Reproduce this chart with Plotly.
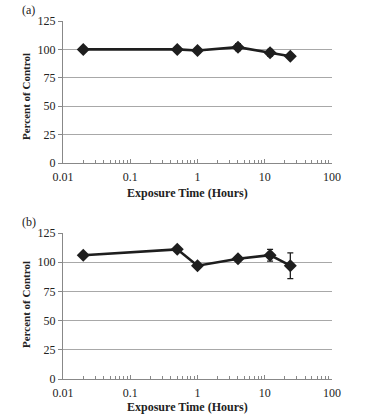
import plotly.graph_objects as go

hours = [0.02, 0.5, 1, 4, 12, 24]
pct_a = [100, 100, 99, 102, 97, 94]
err_a = [2, 2, 2, 3, 3, 1.5]
pct_b = [106, 111, 97, 103, 106, 97]
err_b = [1, 1, 1, 1, 5, 11]
x_ticks = [0.01, 0.1, 1, 10, 100]
x_ticktext = ["0.01", "0.1", "1", "10", "100"]
x_minor = [m * d for d in [0.01, 0.1, 1, 10] for m in range(2, 10)]
y_ticks = [0, 25, 50, 75, 100, 125]
panel_labels = ["(a)", "(b)"]

W, H = 374, 417
FONT = "Liberation Serif"

fig = go.Figure()

def add_panel(idx, y, err):
    xa = "x" if idx == 0 else "x2"
    ya = "y" if idx == 0 else "y2"
    fig.add_trace(go.Scatter(
        x=hours, y=y, xaxis=xa, yaxis=ya, mode="lines+markers",
        line=dict(color="#1e1e1e", width=2.6),
        marker=dict(symbol="diamond", size=10, color="#1e1e1e"),
        error_y=dict(type="data", array=err, visible=True, color="#1e1e1e",
                     thickness=1.3, width=3),
        showlegend=False, hoverinfo="skip"))

add_panel(0, pct_a, err_a)
add_panel(1, pct_b, err_b)

x0, x1 = 63 / W, 332 / W
doms = [(1 - 163 / H, 1 - 21 / H), (1 - 379 / H, 1 - 233 / H)]

axis_x = dict(type="log", range=[-2, 2], tickmode="array", tickvals=x_ticks,
              ticktext=x_ticktext, automargin=False, ticklabelstandoff=3,
              ticks="inside", ticklen=4, tickcolor="#888", showgrid=False,
              showline=True, linecolor="#888", linewidth=1, zeroline=False,
              tickfont=dict(family=FONT, size=12, color="#222"),
              minor=dict(tickmode="array", tickvals=x_minor, ticks="inside",
                         ticklen=3, tickcolor="#888", showgrid=False),
              domain=[x0, x1])
axis_y = dict(range=[0, 125], tickvals=y_ticks, ticks="outside", ticklen=4,
              tickcolor="#888", showgrid=True, gridcolor="#a8a8a8", gridwidth=1,
              showline=True, linecolor="#888", linewidth=1, zeroline=False,
              automargin=False,
              tickfont=dict(family=FONT, size=12, color="#222"))

fig.update_layout(
    width=W, height=H, margin=dict(l=0, r=0, t=0, b=0),
    paper_bgcolor="white", plot_bgcolor="white",
    xaxis=dict(axis_x, anchor="y"),
    yaxis=dict(axis_y, domain=list(doms[0]), anchor="x"),
    xaxis2=dict(axis_x, anchor="y2"),
    yaxis2=dict(axis_y, domain=list(doms[1]), anchor="x2"),
)

annots = []
title_y = [193, 407]
label_y = [10, 222]
ytitle_c = [97, 305]
for i in range(2):
    annots.append(dict(text=panel_labels[i], x=20 / W, y=1 - label_y[i] / H,
                       xref="paper", yref="paper", showarrow=False,
                       xanchor="left", yanchor="middle",
                       font=dict(family=FONT, size=12, color="#222")))
    annots.append(dict(text="<b>Exposure Time (Hours)</b>", x=187 / W,
                       y=1 - title_y[i] / H, xref="paper", yref="paper",
                       showarrow=False, xanchor="center", yanchor="middle",
                       font=dict(family=FONT, size=12, color="#222")))
    annots.append(dict(text="<b>Percent of Control</b>", x=26 / W,
                       y=1 - ytitle_c[i] / H, xref="paper", yref="paper",
                       showarrow=False, textangle=-90, xanchor="center",
                       yanchor="middle",
                       font=dict(family=FONT, size=11, color="#222")))
fig.update_layout(annotations=annots)

fig.write_html("out.html", config={"displayModeBar": False},
               post_script="document.body.style.margin='0px';"
                           "document.body.style.overflow='hidden';")
